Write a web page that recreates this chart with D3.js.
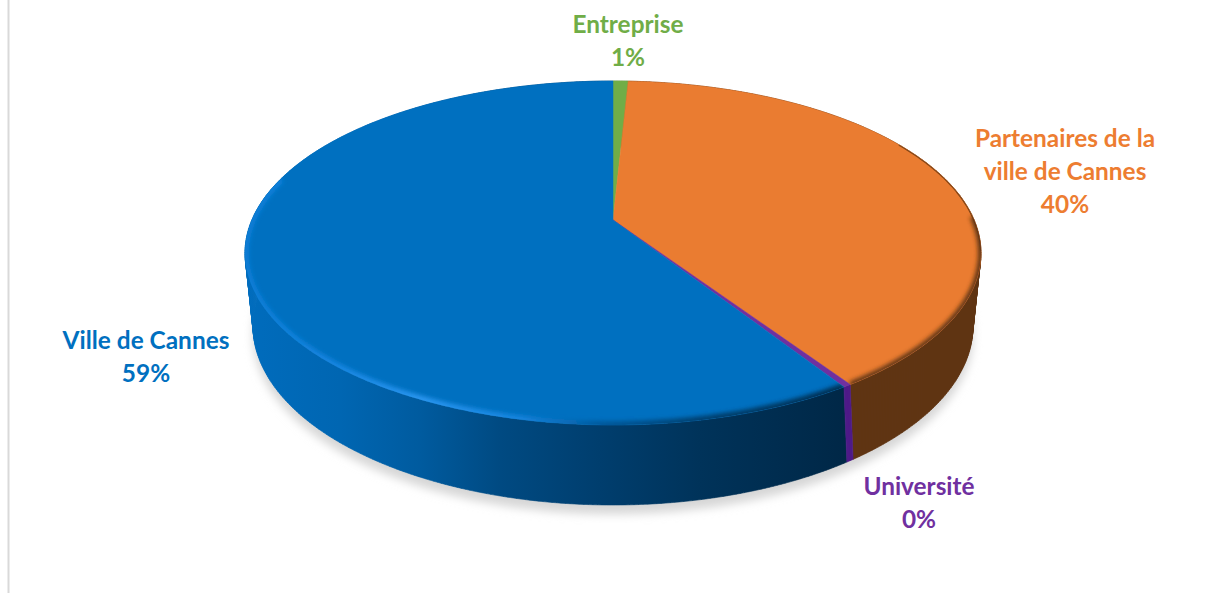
<!DOCTYPE html>
<html lang="fr">
<head>
<meta charset="utf-8">
<title>Répartition</title>
<script src="https://cdn.jsdelivr.net/npm/d3@7"></script>
<style>
  html, body { margin: 0; padding: 0; background: #fff; overflow: hidden; }
  svg { display: block; }
  text { font-family: Lato, "Open Sans", sans-serif; font-weight: 700; font-size: 24.4px; text-anchor: middle; }
</style>
</head>
<body>
<svg id="chart" width="1206" height="593"></svg>
<script>
  // Data, clockwise from 12 o'clock. Université is a sliver that rounds to 0%
  const categories = ['Entreprise', 'Partenaires de la ville de Cannes', 'Université', 'Ville de Cannes'];
  const values = [0.8, 39.9, 0.3, 59.0];
  const labelLines = [['Entreprise'], ['Partenaires de la', 'ville de Cannes'], ['Université'], ['Ville de Cannes']];

  const topColors = ['#70ad47', '#ea7c31', '#7030a0', '#0070c0'];
  const wallColors = ['#43682a', '#5f3413', '#4e1a88', 'url(#wallBlue)'];
  const textColors = ['#70ad47', '#ed7d31', '#7030a0', '#0070c0'];
  const labelAnchors = [[628, 33], [1065, 147], [919, 495], [146, 349]];
  const lineHeight = 33;

  // Ellipses of the disc rims, the circle is foreshortened so its centre sits behind the ellipse centre
  const topRim = { cx: 613, cy: 253, rx: 368, ry: 172, k: -0.192 };
  const baseRim = { cx: 613, cy: 326, rx: 360, ry: 179, k: -0.235 };

  const svg = d3.select('#chart');
  const defs = svg.append('defs');

  function addGradient(id, stops) {
    const g = defs.append('linearGradient')
      .attr('id', id)
      .attr('gradientUnits', 'userSpaceOnUse')
      .attr('x1', 245).attr('x2', 981).attr('y1', 0).attr('y2', 0);
    stops.forEach(s => {
      g.append('stop').attr('offset', (s[0] - 245) / 736).attr('stop-color', s[1]);
    });
  }

  addGradient('wallBlue', [[245, '#006cbd'], [340, '#0066b2'], [420, '#005b9f'], [500, '#004a82'], [600, '#003e6e'], [700, '#00335a'], [850, '#002746']]);
  addGradient('rimBlue', [[245, '#0a7dd6'], [330, '#1584e0'], [420, '#2a96f0'], [520, '#1684de'], [600, '#00599c'], [700, '#00406f'], [850, '#002f52']]);

  function addBlur(id, dev) {
    defs.append('filter').attr('id', id)
      .attr('x', '-10%').attr('y', '-10%').attr('width', '120%').attr('height', '120%')
      .append('feGaussianBlur').attr('stdDeviation', dev);
  }
  addBlur('shadowBlur', 5);
  addBlur('rimBlur', 2.2);

  // angle a is clockwise from the top, as d3.pie gives it
  function project(rim, a) {
    const u = Math.sin(a);
    const v = -Math.cos(a);
    const w = 1 + rim.k * v;
    return [
      rim.cx + rim.rx * Math.sqrt(1 - rim.k * rim.k) * u / w,
      rim.cy + rim.k * rim.ry + rim.ry * (1 - rim.k * rim.k) * v / w
    ];
  }

  function arcPoints(rim, a0, a1) {
    const n = Math.max(2, Math.ceil(Math.abs(a1 - a0) / 0.01));
    return d3.range(n + 1).map(i => project(rim, a0 + (a1 - a0) * i / n));
  }

  // Wall as small quads, so the silhouette between the two rims is filled too
  function wallPath(a0, a1) {
    const t = arcPoints(topRim, a0, a1);
    const b = arcPoints(baseRim, a0, a1);
    return d3.range(t.length - 1)
      .map(i => line([t[i], t[i + 1], b[i + 1], b[i]]) + 'Z')
      .join('');
  }

  const line = d3.line();
  const apex = [topRim.cx, topRim.cy + topRim.k * topRim.ry];
  const pie = d3.pie().sort(null).value(d => d)(values);
  const TAU = Math.PI * 2;

  // Drop shadow under the whole disc
  svg.append('path')
    .attr('d', line(arcPoints(baseRim, 0, TAU)) + 'Z')
    .attr('transform', 'translate(0,9)')
    .attr('fill', '#d6d6d6')
    .attr('filter', 'url(#shadowBlur)');

  // Walls, back to front
  const wallOrder = [0, 1, 3, 2];
  svg.append('g')
    .selectAll('path')
    .data(wallOrder.map(i => ({ arc: pie[i], i })))
    .enter()
    .append('path')
    .attr('d', d => wallPath(d.arc.startAngle, d.arc.endAngle))
    .attr('fill', d => wallColors[d.i])
    .attr('stroke', d => wallColors[d.i])
    .attr('stroke-width', 0.6);

  // Top face
  const topFace = svg.append('g');
  topFace.selectAll('path')
    .data(pie)
    .enter()
    .append('path')
    .attr('d', d => line([apex].concat(arcPoints(topRim, d.startAngle, d.endAngle))) + 'Z')
    .attr('fill', (d, i) => topColors[i])
    .attr('stroke', (d, i) => topColors[i])
    .attr('stroke-width', 0.5);

  // Soft bevel along the rim, clipped to each face
  defs.append('clipPath').attr('id', 'clipOrange')
    .append('path').attr('d', line([apex].concat(arcPoints(topRim, pie[1].startAngle, pie[1].endAngle))) + 'Z');
  defs.append('clipPath').attr('id', 'clipBlue')
    .append('path').attr('d', line([apex].concat(arcPoints(topRim, pie[3].startAngle, pie[3].endAngle))) + 'Z');

  const orangeRim = svg.append('g').attr('clip-path', 'url(#clipOrange)');
  orangeRim.append('path')
    .attr('d', line(arcPoints(topRim, pie[1].startAngle + 1.0, pie[1].startAngle + 1.7)))
    .attr('fill', 'none')
    .attr('stroke', '#7a4318')
    .attr('stroke-width', 2);
  orangeRim.append('path')
    .attr('d', line(arcPoints(topRim, pie[1].startAngle + 1.5, pie[1].endAngle)))
    .attr('fill', 'none')
    .attr('stroke', '#5f3413')
    .attr('stroke-width', 6)
    .attr('filter', 'url(#rimBlur)');

  svg.append('g').attr('clip-path', 'url(#clipBlue)')
    .append('path')
    .attr('d', line(arcPoints(topRim, pie[3].startAngle, pie[3].startAngle + 2.4)))
    .attr('fill', 'none')
    .attr('stroke', 'url(#rimBlue)')
    .attr('stroke-width', 8)
    .attr('filter', 'url(#rimBlur)');

  // Labels
  const labels = svg.append('g')
    .selectAll('text')
    .data(pie)
    .enter()
    .append('text')
    .attr('fill', (d, i) => textColors[i]);

  labels.each(function (d, i) {
    const rows = labelLines[i].concat(d3.format('.0%')(values[i] / 100));
    d3.select(this).selectAll('tspan')
      .data(rows)
      .enter()
      .append('tspan')
      .attr('x', labelAnchors[i][0])
      .attr('y', (r, k) => labelAnchors[i][1] + k * lineHeight)
      .text(r => r);
  });

  // Edge of the picture frame
  svg.append('line')
    .attr('x1', 8.5).attr('x2', 8.5).attr('y1', 0).attr('y2', 593)
    .attr('stroke', '#d9d9d9')
    .attr('stroke-width', 2);
</script>
</body>
</html>
